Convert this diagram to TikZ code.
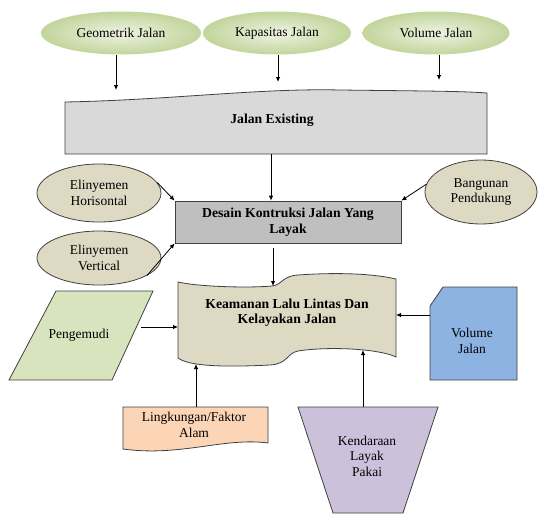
\documentclass[tikz,border=0pt]{standalone}
\usepackage{fontspec}
\setmainfont{Liberation Serif}
\usetikzlibrary{shapes.geometric, arrows.meta}

\definecolor{topin}{HTML}{EEF3E3}
\definecolor{topout}{HTML}{C2D59B}
\definecolor{exgray}{HTML}{D9D9D9}
\definecolor{desgray}{HTML}{BFBFBF}
\definecolor{tan}{HTML}{DDD9C3}
\definecolor{pgreen}{HTML}{D7E4BD}
\definecolor{vblue}{HTML}{8DB3E2}
\definecolor{peach}{HTML}{FBD5B5}
\definecolor{lav}{HTML}{CCC1DA}
\definecolor{edge}{HTML}{404040}

\tikzset{
  lbl/.style={font=\fontsize{13.5}{15.5}\selectfont, align=center, inner sep=0},
  bold/.style={font=\fontsize{13.7}{15.5}\selectfont\bfseries, align=center, inner sep=0},
  shp/.style={draw=edge, line width=0.8pt},
  topoval/.style={ellipse, inner color=topin, outer color=topout, minimum height=43pt, lbl},
  tanoval/.style={ellipse, shp, fill=tan, lbl},
  arr/.style={-{Latex[length=5pt,width=4.5pt]}, line width=0.8pt, black}
}

\begin{document}
\begin{tikzpicture}[x=1pt, y=-1pt]
\useasboundingbox (0,0) rectangle (538,514);

\node[topoval, minimum width=160pt] at (121,33) (geo){Geometrik Jalan};
\node[topoval, minimum width=148pt] at (277,33) (kap){Kapasitas Jalan};
\node[topoval, minimum width=147pt] at (436,33) (volj){Volume Jalan};

\draw[shp, fill=exgray] (65,102) .. controls (170,100) and (260,88) .. (340,90)
    .. controls (420,91) and (460,91) .. (487,93)
    -- (487,154) -- (65,154) -- cycle;
\node[bold] at (272,120) (ex){Jalan Existing};
\coordinate (ex-g) at (116,90);
\coordinate (ex-k) at (278,82);
\coordinate (ex-v) at (439,80);
\coordinate (ex-b) at (271,154);
\draw[arr] (geo.south -| ex-g) -- (ex-g);
\draw[arr] (kap.south -| ex-k) -- (ex-k);
\draw[arr] (volj.south -| ex-v) -- (ex-v);

\node[rectangle, shp, fill=desgray, bold, minimum width=226pt, minimum height=42pt] at (288,222) (des){Desain Kontruksi Jalan Yang\\Layak};
\node[tanoval, minimum width=124pt, minimum height=58pt] at (99,193) (hor){Elinyemen\\Horisontal};
\node[tanoval, minimum width=124pt, minimum height=54pt] at (99,258) (ver){Elinyemen\\Vertical};
\node[tanoval, minimum width=112pt, minimum height=64pt] at (481,192) (bang){Bangunan\\Pendukung};
\draw[arr] (ex-b) -- (ex-b |- des.north);
\draw[arr] (hor.10) -- (des.north west);
\draw[arr] (ver.-20) -- (des.south west);
\draw[arr] (bang.172) -- (des.north east);

\draw[shp, fill=tan] (178,282) .. controls (200,287) and (250,288) .. (272,286)
    .. controls (282,285) and (282,276) .. (298,275)
    .. controls (340,272) and (375,274) .. (396,279)
    -- (396,357) .. controls (380,349) and (330,346) .. (298,351)
    .. controls (287,353) and (288,364) .. (270,365)
    .. controls (230,367) and (190,367) .. (178,358) -- cycle;
\node[bold] at (287,312.5) (kea){Keamanan Lalu Lintas Dan\\Kelayakan Jalan};
\coordinate (kea-t) at (273,286);
\coordinate (kea-l) at (178,327);
\coordinate (kea-r) at (396,315);
\coordinate (kea-b1) at (196,364);
\coordinate (kea-b2) at (363,350);
\draw[arr, shorten <=5pt] (kea-t |- des.south) -- (kea-t);

\draw[shp, fill=pgreen] (56,291) -- (153,291) -- (112,380) -- (9,380) -- cycle;
\node[lbl] at (79,335) (pen){Pengemudi};
\coordinate (pen-r) at (141,327);
\draw[arr] (pen-r) -- (kea-l);

\draw[shp, fill=vblue] (430,306) -- (443,287) -- (517,287) -- (517,380) -- (430,380) -- cycle;
\node[lbl] at (472,341) (vol){Volume\\Jalan};
\coordinate (vol-l) at (430,315);
\draw[arr] (vol-l) -- (kea-r);

\draw[shp, fill=peach] (123,407) -- (268,407) -- (268,443)
    .. controls (225,437) and (180,457) .. (123,449) -- cycle;
\node[lbl] at (194,425) (lin){Lingkungan/Faktor\\Alam};
\coordinate (lin-t) at (196,407);
\draw[arr] (lin-t) -- (kea-b1);

\draw[shp, fill=lav] (298,407) -- (438,407) -- (403,513) -- (333,513) -- cycle;
\node[lbl] at (367,456) (ken){Kendaraan\\Layak\\Pakai};
\coordinate (ken-t) at (363,407);
\draw[arr] (ken-t) -- (kea-b2);

\end{tikzpicture}
\end{document}
